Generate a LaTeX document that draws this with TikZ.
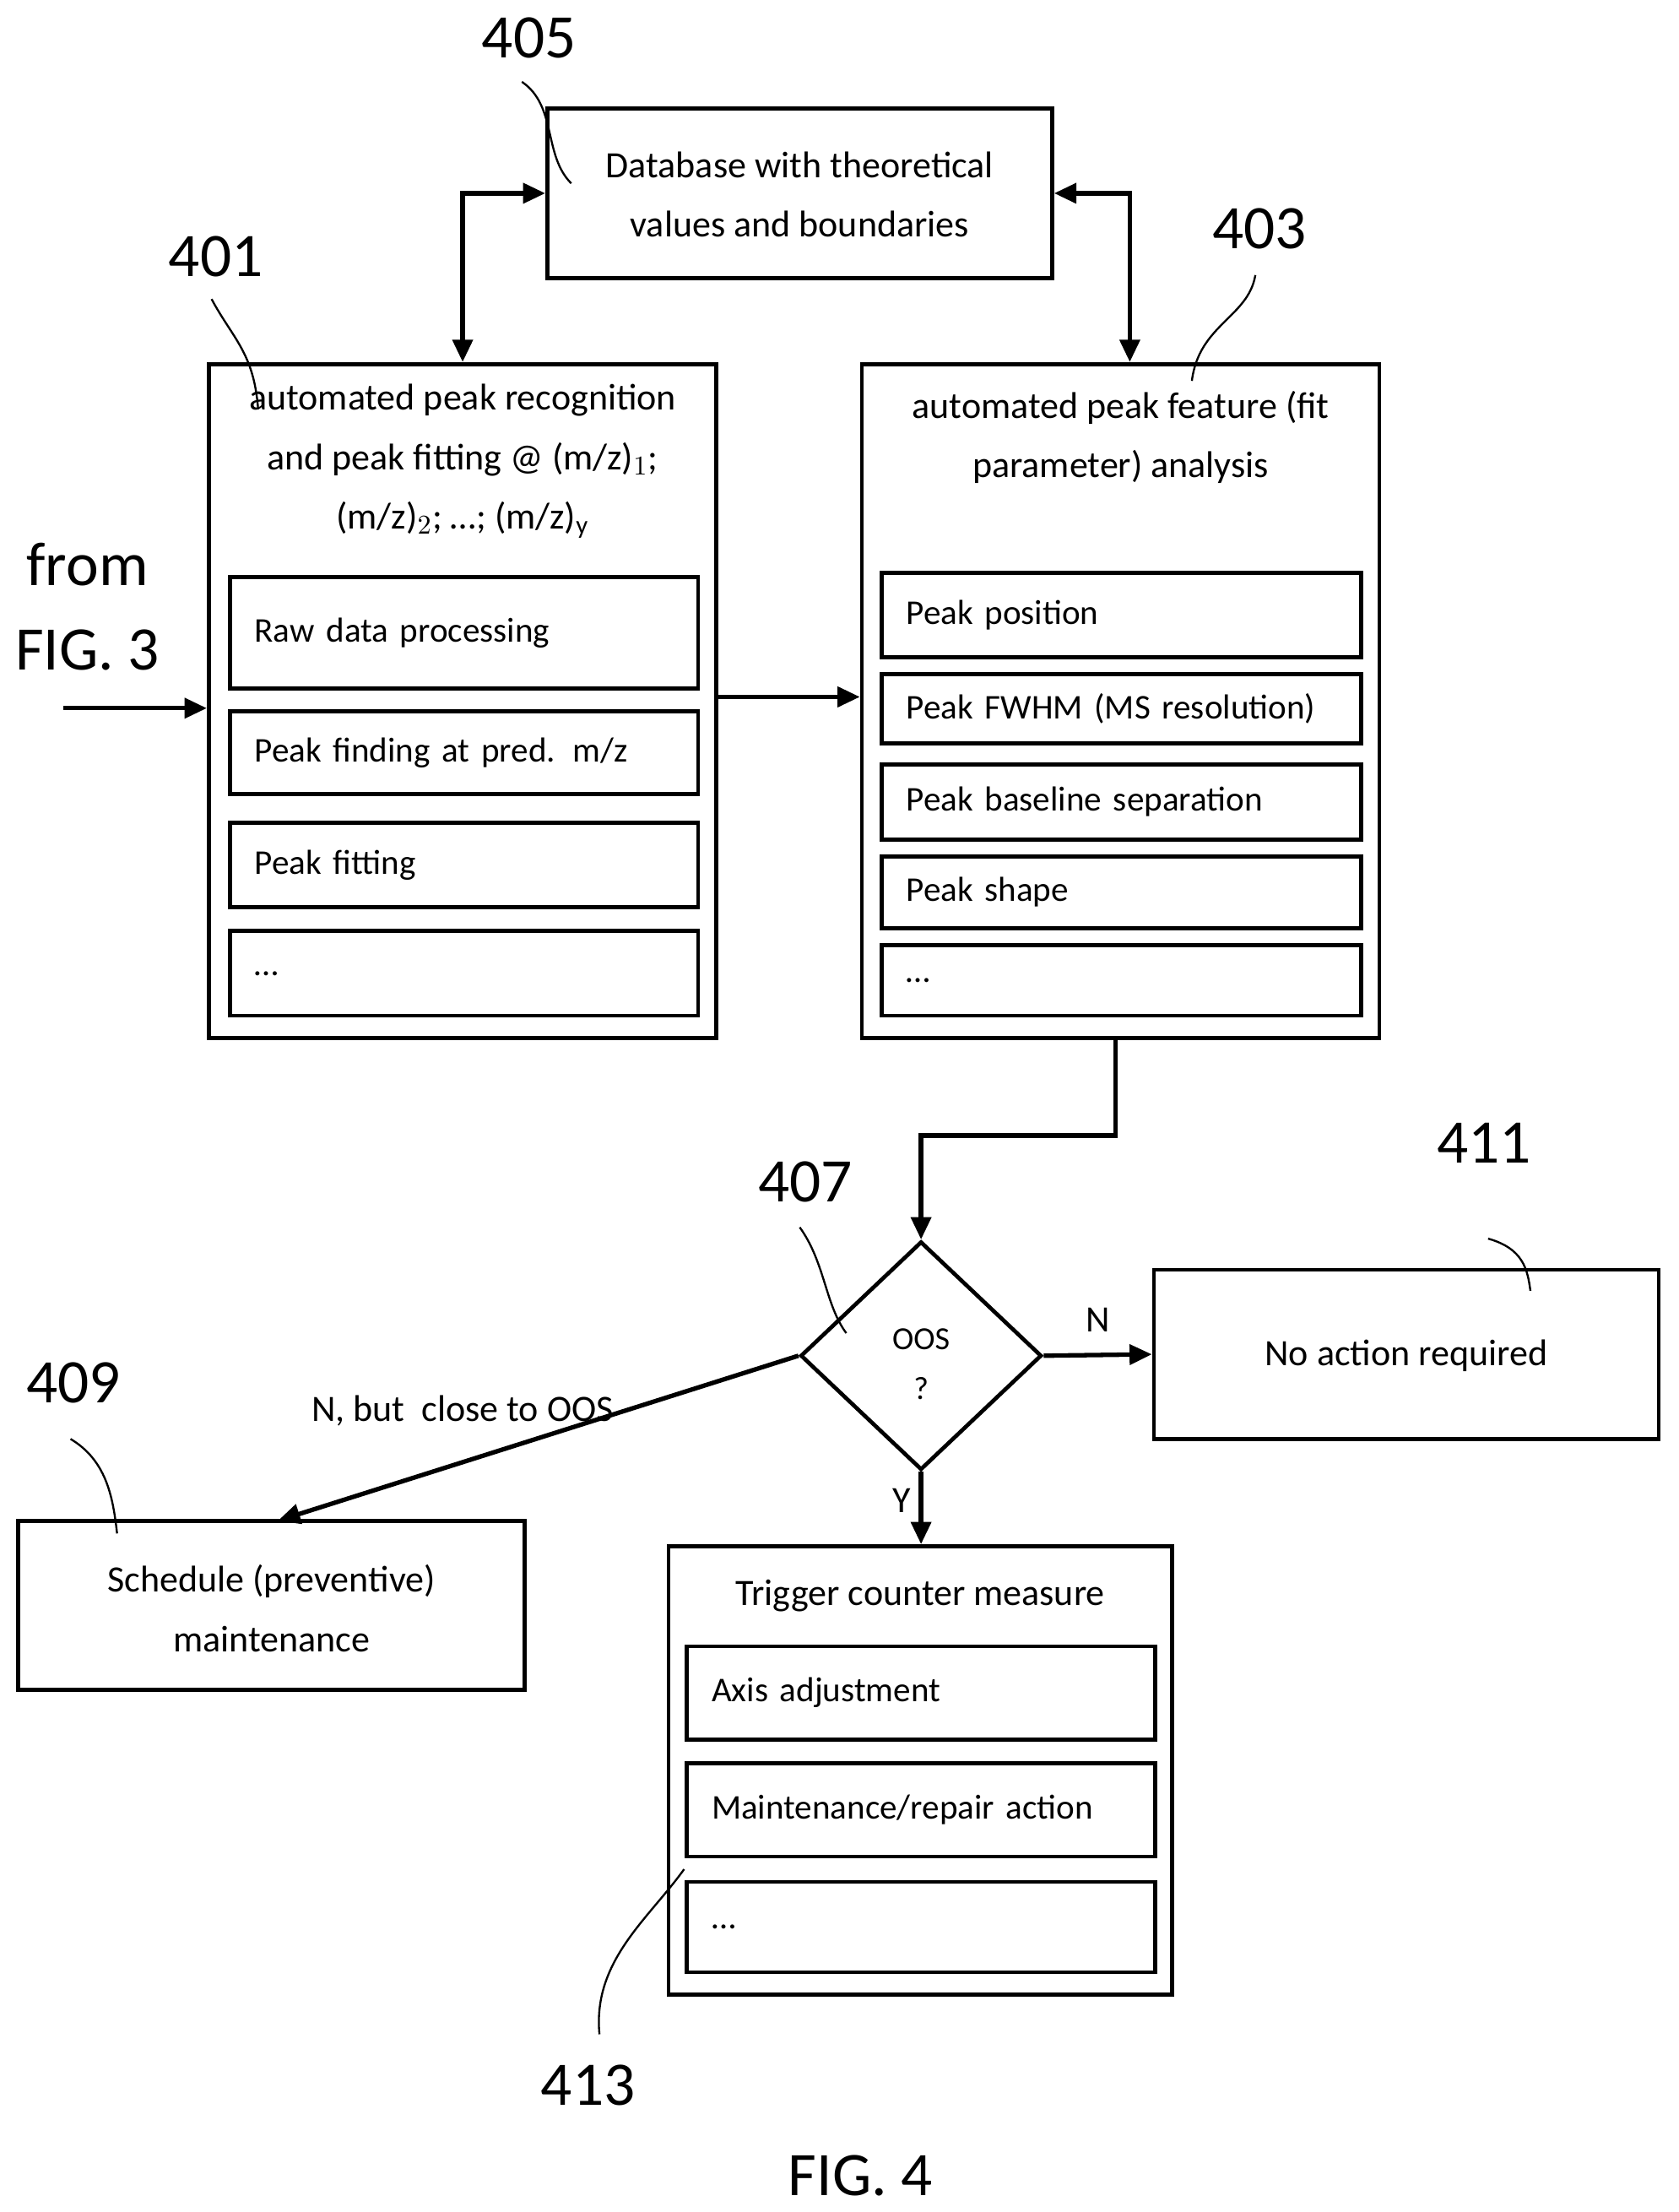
\documentclass[tikz,border=0pt]{standalone}
\usepackage{fontspec}
\setmainfont{Carlito}
\usetikzlibrary{shapes.geometric,arrows.meta}
\begin{document}
\begin{tikzpicture}[x=0.02cm,y=-0.02cm,
  box/.style={draw, line width=1.6pt, inner sep=0pt},
  sub/.style={draw, line width=1.6pt, inner xsep=0.35cm, inner ysep=0pt, align=left, font=\fontsize{14}{16}\selectfont},
  ttl/.style={align=center, font=\fontsize{15}{24}\selectfont},
  num/.style={font=\fontsize{25}{28}\selectfont},
  lead/.style={line width=0.8pt},
  e/.style={line width=1.8pt, -{Triangle[length=9pt,width=8pt]}},
  ee/.style={line width=1.8pt, {Triangle[length=9pt,width=8pt]}-{Triangle[length=9pt,width=8pt]}},
  lab/.style={font=\fontsize{15}{18}\selectfont}
]
\useasboundingbox (0,0) rectangle (1190,1568);

% --- database 405 ---
\node[box, minimum width=7.16cm, minimum height=2.4cm] (db) at (567,137) {};
\node[ttl] (dbT) at (567,138) {Database with theoretical\\values and boundaries};

% --- block 401 ---
\node[box, minimum width=7.2cm, minimum height=9.56cm] (rec) at (328,497) {};
\node[ttl] (recT) at (328,327) {automated peak recognition\\and peak fitting @ (m/z)$_1$;\\(m/z)$_2$; \dots; (m/z)$_\mathrm{y}$};
\node[sub, text width=5.94cm, minimum height=1.58cm] (raw) at (329,448.5) {Raw data processing};
\node[sub, text width=5.94cm, minimum height=1.18cm] (find) at (329,533.5) {Peak finding at pred. m/z};
\node[sub, text width=5.94cm, minimum height=1.2cm] (fit) at (329,613) {Peak fitting};
\node[sub, text width=5.94cm, minimum height=1.2cm] (recD) at (329,690) {\dots};

% --- block 403 ---
\node[box, minimum width=7.34cm, minimum height=9.56cm] (feat) at (794.5,497) {};
\node[ttl] (featT) at (794.5,310) {automated peak feature (fit\\parameter) analysis};
\node[sub, text width=6.1cm, minimum height=1.2cm] (pos) at (795,436) {Peak position};
\node[sub, text width=6.1cm, minimum height=0.98cm] (fwhm) at (795,502.5) {Peak FWHM (MS resolution)};
\node[sub, text width=6.1cm, minimum height=1.06cm] (base) at (795,568.5) {Peak baseline separation};
\node[sub, text width=6.1cm, minimum height=1.02cm] (shape) at (795,632.5) {Peak shape};
\node[sub, text width=6.1cm, minimum height=1.0cm] (featD) at (795,695) {\dots};

% --- decision and outcomes ---
\node[box, diamond, minimum width=3.42cm, minimum height=3.24cm] (oos) at (653,961) {};
\node[align=center, font=\fontsize{13}{20}\selectfont] (oosT) at (653,967) {OOS\\?};
\node[box, minimum width=7.16cm, minimum height=2.4cm] (none) at (997,960) {};
\node[lab] (noneT) at (997,961) {No action required};
\node[box, minimum width=7.18cm, minimum height=2.4cm] (sched) at (192.5,1138) {};
\node[ttl] (schedT) at (192.5,1140) {Schedule (preventive)\\maintenance};
\node[box, minimum width=7.14cm, minimum height=6.36cm] (trig) at (652.5,1255) {};
\node[lab] (trigT) at (652.5,1131) {Trigger counter measure};
\node[sub, text width=5.94cm, minimum height=1.32cm] (axis) at (653,1200) {Axis adjustment};
\node[sub, text width=5.94cm, minimum height=1.32cm] (rep) at (653,1283) {Maintenance/repair action};
\node[sub, text width=5.94cm, minimum height=1.28cm] (trigD) at (653,1366) {\dots};

% --- reference numerals ---
\node[num] (n405) at (375,27) {405};
\node[num] (n401) at (153,182) {401};
\node[num] (n403) at (893,162) {403};
\node[num] (n407) at (571,838) {407};
\node[num] (n411) at (1052,810) {411};
\node[num] (n409) at (52,980) {409};
\node[num] (n413) at (417,1478) {413};
\node[num] (fig) at (610,1542) {FIG. 4};
\node[align=center, font=\fontsize{25}{34}\selectfont] (from) at (62,430) {from\\FIG. 3};
\coordinate (in) at (45,502);

\draw[lead] (370,58) .. controls (395,75) and (385,110) .. (405,130);
\draw[lead] (150,212) .. controls (165,240) and (180,250) .. (183,290);
\draw[lead] (890,195) .. controls (885,225) and (850,230) .. (845,270);
\draw[lead] (567,870) .. controls (585,895) and (585,925) .. (600,945);
\draw[lead] (1055,878) .. controls (1080,885) and (1083,900) .. (1085,915);
\draw[lead] (50,1020) .. controls (75,1035) and (80,1060) .. (83,1087);
\draw[lead] (425,1442) .. controls (420,1390) and (460,1360) .. (485,1325);

% --- connectors ---
\draw[ee] (db.west) -| (rec.north -| 328,0);
\draw[ee] (db.east) -| ([xshift=0.13cm]feat.north);
\draw[e] (in) -- (in -| rec.west);
\draw[e] (rec.east |- 0,494) -- (feat.west |- 0,494);
\draw[e] ([xshift=-0.07cm]feat.south) |- (653,805) -- (oos.north);
\draw[e] (oos.east) -- node[lab, above, pos=0.5, yshift=5pt] {N} (none.west);
\draw[e] (oos.west) -- node[lab, above, pos=0.55, xshift=-20pt, yshift=4pt] {N, but\ \ close to OOS} (197,1078);
\draw[e] (oos.south) -- node[lab, left, pos=0.4] {Y} (trig.north -| oos.south);
\end{tikzpicture}
\end{document}
